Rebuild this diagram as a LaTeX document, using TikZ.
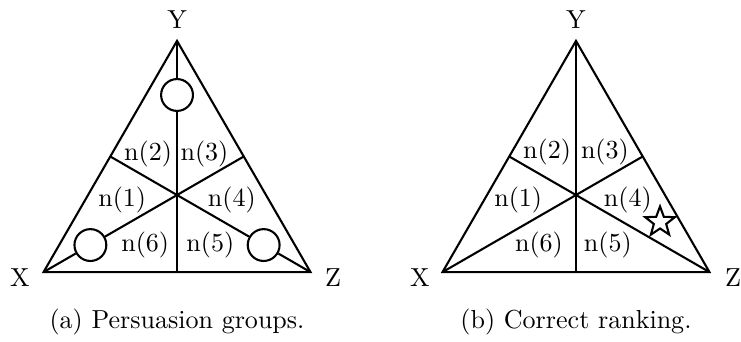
\documentclass[tikz,border=0pt]{standalone}
\usetikzlibrary{positioning, shapes.geometric, calc}

\begin{document}
\begin{tikzpicture}[
edge/.style={thick},
grp/.style={circle, draw, thick, minimum size=0.43cm, inner sep=0pt},
best/.style={star, star points=5, star point ratio=2.4, draw, thick, minimum size=0.42cm, inner sep=0pt},
]
\useasboundingbox (0,0) rectangle (10,4.602);

% Left triangle: persuasion groups
\begin{scope}[shift={(2.389,1.970)}]
\coordinate (ga) at (0,0);
\coordinate (xa) at (210:2.08);
\coordinate (ya) at (90:2.08);
\coordinate (za) at (330:2.08);
\coordinate (mxa) at ($(ya)!0.5!(za)$);
\coordinate (mya) at ($(xa)!0.5!(za)$);
\coordinate (mza) at ($(xa)!0.5!(ya)$);

\node[grp] (cxa) at (210:1.35) {};
\node[grp] (cya) at (90:1.35) {};
\node[grp] (cza) at (330:1.35) {};

\draw[edge] (xa) -- (ya) -- (za) -- cycle;
\draw[edge] (ya) -- (cya);
\draw[edge] (cya) -- (mya);
\draw[edge] (xa) -- (cxa);
\draw[edge] (cxa) -- (mxa);
\draw[edge] (za) -- (cza);
\draw[edge] (cza) -- (mza);

\node (lxa) at (-2.119,-1.120) {X};
\node (lya) at (0,2.362) {Y};
\node (lza) at (2.105,-1.120) {Z};

\node (n1a) at (-0.74,-0.07) {n(1)};
\node (n2a) at (-0.39,0.55) {n(2)};
\node (n3a) at (0.37,0.55) {n(3)};
\node (n4a) at (0.74,-0.07) {n(4)};
\node (n5a) at (0.45,-0.67) {n(5)};
\node (n6a) at (-0.43,-0.67) {n(6)};

\node (capa) at (0,-1.714) {(a) Persuasion groups.};
\end{scope}

% Right triangle: correct ranking
\begin{scope}[shift={(7.773,1.970)}]
\coordinate (gb) at (0,0);
\coordinate (xb) at (210:2.08);
\coordinate (yb) at (90:2.08);
\coordinate (zb) at (330:2.08);
\coordinate (mxb) at ($(yb)!0.5!(zb)$);
\coordinate (myb) at ($(xb)!0.5!(zb)$);
\coordinate (mzb) at ($(xb)!0.5!(yb)$);

\draw[edge] (xb) -- (yb) -- (zb) -- cycle;
\draw[edge] (yb) -- (myb);
\draw[edge] (xb) -- (mxb);
\draw[edge] (zb) -- (mzb);

\node (lxb) at (-2.105,-1.120) {X};
\node (lyb) at (0,2.362) {Y};
\node (lzb) at (2.119,-1.120) {Z};

\node (n1b) at (-0.78,-0.07) {n(1)};
\node (n2b) at (-0.39,0.58) {n(2)};
\node (n3b) at (0.39,0.58) {n(3)};
\node (n4b) at (0.70,-0.07) {n(4)};
\node (n5b) at (0.43,-0.67) {n(5)};
\node (n6b) at (-0.50,-0.67) {n(6)};

\node[best] (star) at (1.134,-0.364) {};

\node (capb) at (0,-1.714) {(b) Correct ranking.};
\end{scope}

\end{tikzpicture}
\end{document}
